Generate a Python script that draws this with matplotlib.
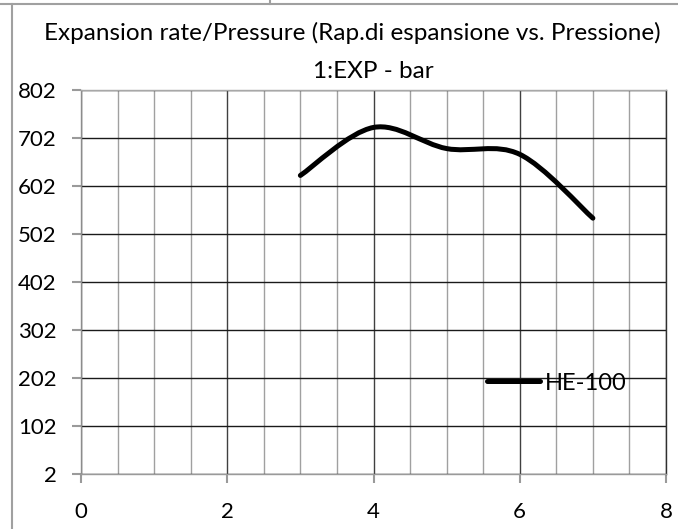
import matplotlib.pyplot as plt
from matplotlib.path import Path
from matplotlib.patches import PathPatch
from matplotlib.lines import Line2D
from matplotlib.ticker import MultipleLocator

pressure = [3, 4, 5, 6, 7]
expansion = [624, 724, 680, 668, 535]
series_name = "HE-100"
title_1 = "Expansion rate/Pressure (Rap.di espansione vs. Pressione)"
title_2 = "1:EXP - bar"
y_ticks = [2, 102, 202, 302, 402, 502, 602, 702, 802]
x_ticks = [0, 2, 4, 6, 8]

plt.rcParams['font.family'] = ['Lato', 'DejaVu Sans']

fig = plt.figure(figsize=(6.78, 5.29), dpi=100)
ax = fig.add_axes([81 / 678, 1 - 474 / 529, 585 / 678, 384 / 529])

# outer chart frame (partly visible in the screenshot)
fig.add_artist(Line2D([0, 1], [1 - 4 / 529] * 2, color='#a0a0a0', lw=1.5))
fig.add_artist(Line2D([12 / 678] * 2, [0, 1 - 4 / 529], color='#a0a0a0', lw=1.5))
fig.add_artist(Line2D([270 / 678] * 2, [1 - 4 / 529, 1], color='#a0a0a0', lw=1.5))

ax.set_xlim(0, 8)
ax.set_ylim(2, 802)
ax.set_xticks(x_ticks)
ax.set_yticks(y_ticks)
ax.xaxis.set_minor_locator(MultipleLocator(0.5))

ax.grid(True, axis='y', which='major', color='#1a1a1a', lw=1)
ax.grid(True, axis='x', which='major', color='#404040', lw=1)
ax.grid(True, axis='x', which='minor', color='#a0a0a0', lw=1)
ax.set_axisbelow(True)

ax.spines['top'].set_color('#a8a8a8')
ax.spines['right'].set_color('#303030')
ax.spines['left'].set_color('#8c8c8c')
ax.spines['bottom'].set_color('#9a9a9a')
for s in ax.spines.values():
    s.set_linewidth(1)

ax.tick_params(axis='both', which='major', direction='out', length=6.5, width=1.5,
               color='#9a9a9a', labelsize=16, labelcolor='black')
ax.tick_params(axis='y', pad=11)
ax.tick_params(axis='x', pad=14)
ax.tick_params(axis='x', which='minor', length=0)

# smoothed line like the spreadsheet "smoothed line" option (Catmull-Rom beziers)
pts = list(zip(pressure, expansion))
verts = [pts[0]]
codes = [Path.MOVETO]
n = len(pts)
for i in range(n - 1):
    p0 = pts[i - 1] if i > 0 else pts[i]
    p1 = pts[i]
    p2 = pts[i + 1]
    p3 = pts[i + 2] if i + 2 < n else pts[i + 1]
    c1 = (p1[0] + (p2[0] - p0[0]) / 6, p1[1] + (p2[1] - p0[1]) / 6)
    c2 = (p2[0] - (p3[0] - p1[0]) / 6, p2[1] - (p3[1] - p1[1]) / 6)
    verts += [c1, c2, p2]
    codes += [Path.CURVE4] * 3
patch = PathPatch(Path(verts, codes), fill=False, edgecolor='black', lw=3.6,
                  capstyle='round', joinstyle='round', zorder=3)
ax.add_patch(patch)

handle = Line2D([], [], color='black', lw=3.6, solid_capstyle='round')
ax.legend([handle], [series_name], loc='center left',
          bbox_to_anchor=(406 / 585, 91 / 384), frameon=False, fontsize=17,
          handlelength=2.25, handletextpad=0.2, borderpad=0, borderaxespad=0)

fig.text(352 / 678, 1 - 33 / 529, title_1, ha='center', va='center', fontsize=17.5)
fig.text(373 / 678, 1 - 71 / 529, title_2, ha='center', va='center', fontsize=17.5)

fig.savefig('out.png', dpi=100)
